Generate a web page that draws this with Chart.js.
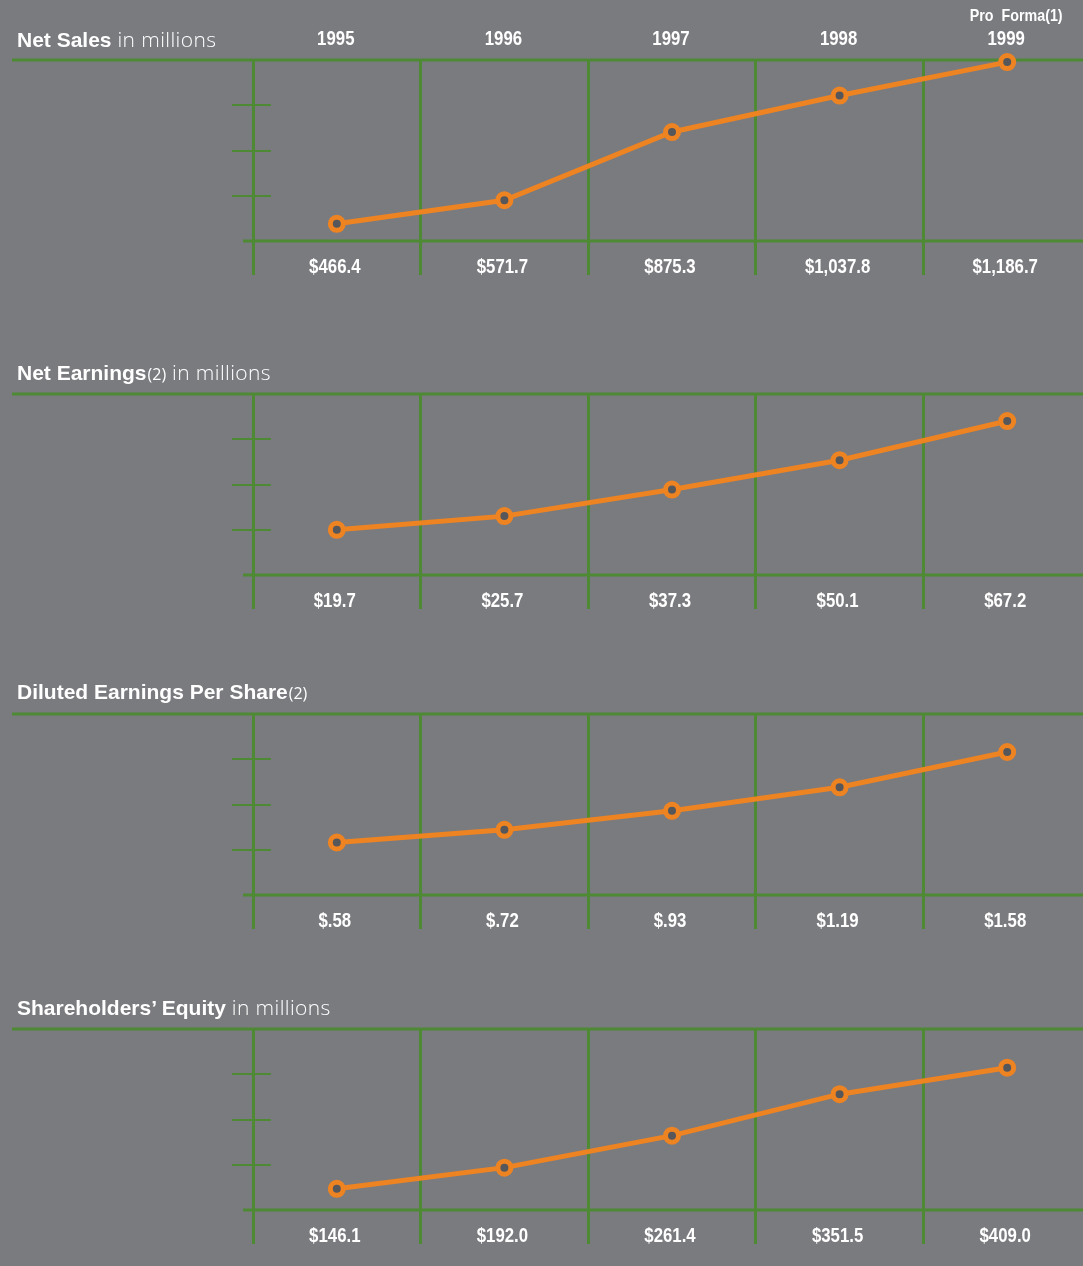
<!DOCTYPE html>
<html><head><meta charset="utf-8">
<script src="https://cdn.jsdelivr.net/npm/chart.js@4.4.1/dist/chart.umd.min.js"></script>
<style>
html,body{margin:0;padding:0;background:#7a7b7f;overflow:hidden;width:1083px;height:1266px;position:relative;}
.panel{position:absolute;left:0;width:1091px;height:285px;}
.title{position:absolute;left:17px;color:#fff;font-size:21px;white-space:nowrap;line-height:22px;z-index:2;}
.title b{font-family:"Liberation Sans",Arial,sans-serif;font-weight:700}
.title span{font-family:"Open Sans",sans-serif;font-weight:300;letter-spacing:0.4px}
.title small{font-family:"Open Sans",sans-serif;font-size:16px;font-weight:400;margin-left:1px}
</style></head><body>
<div class="title" style="top:28px"><b>Net Sales</b><span> in millions</span></div>
<div class="title" style="top:361px"><b>Net Earnings</b><small>(2)</small><span> in millions</span></div>
<div class="title" style="top:681px"><b>Diluted Earnings Per Share</b><small>(2)</small></div>
<div class="title" style="top:996px"><b>Shareholders’ Equity</b><span> in millions</span></div>
<canvas id="c1" class="panel" width="1091" height="285" style="top:0px"></canvas>
<canvas id="c2" class="panel" width="1091" height="285" style="top:334px"></canvas>
<canvas id="c3" class="panel" width="1091" height="285" style="top:654px"></canvas>
<canvas id="c4" class="panel" width="1091" height="285" style="top:969px"></canvas>
<script>
const years = ['1995', '1996', '1997', '1998', '1999'];
const proFormaNote = 'Pro  Forma(1)';

const netSales = [466.4, 571.7, 875.3, 1037.8, 1186.7];
const netSalesLabels = ['$466.4', '$571.7', '$875.3', '$1,037.8', '$1,186.7'];

const netEarnings = [19.7, 25.7, 37.3, 50.1, 67.2];
const netEarningsLabels = ['$19.7', '$25.7', '$37.3', '$50.1', '$67.2'];

const dilutedEPS = [0.58, 0.72, 0.93, 1.19, 1.58];
const dilutedEPSLabels = ['$.58', '$.72', '$.93', '$1.19', '$1.58'];

const equity = [146.1, 192.0, 261.4, 351.5, 409.0];
const equityLabels = ['$146.1', '$192.0', '$261.4', '$351.5', '$409.0'];

const GREEN = '#4e8934', ORANGE = '#ee8322', DOT = '#56575b';
const LABEL_FONT = '"Liberation Sans", Arial, sans-serif';

function drawNarrow(ctx, text, x, y, size) {
  ctx.save();
  ctx.translate(x, y);
  ctx.scale(0.84, 1);
  ctx.font = 'bold ' + size + 'px ' + LABEL_FONT;
  ctx.fillStyle = '#fff';
  ctx.textAlign = 'center';
  ctx.textBaseline = 'middle';
  ctx.fillText(text, 0, 0);
  ctx.restore();
}

const framePlugin = {
  id: 'frame',
  beforeDatasetsDraw(chart) {
    const { ctx, chartArea: a } = chart;
    const y = chart.scales.y;
    ctx.save();
    ctx.strokeStyle = GREEN;
    ctx.lineWidth = 3;
    ctx.beginPath(); ctx.moveTo(12, a.top); ctx.lineTo(chart.width, a.top); ctx.stroke();
    ctx.beginPath(); ctx.moveTo(a.left - 10, a.bottom); ctx.lineTo(chart.width, a.bottom); ctx.stroke();
    ctx.lineWidth = 2;
    y.ticks.forEach((t, i) => {
      if (i === 0 || i === y.ticks.length - 1) return;
      const py = Math.round(y.getPixelForValue(t.value));
      ctx.beginPath(); ctx.moveTo(a.left - 21, py); ctx.lineTo(a.left + 18, py); ctx.stroke();
    });
    ctx.restore();
  },
  afterDraw(chart, args, opts) {
    const { ctx, chartArea: a } = chart;
    const xs = chart.scales.x;
    xs.ticks.forEach((t, i) => drawNarrow(ctx, t.label, xs.getPixelForTick(i) - 2, a.bottom + 26, 20));
    if (opts.showYears) {
      const ts = chart.scales.xTop;
      ts.ticks.forEach((t, i) => drawNarrow(ctx, t.label, ts.getPixelForTick(i) - 1, a.top - 21, 20));
      drawNarrow(ctx, opts.note, ts.getPixelForTick(ts.ticks.length - 1) + 9, 16, 17);
    }
  }
};

function makePanel(id, values, valueLabels, min, max, showYears) {
  return new Chart(document.getElementById(id), {
    type: 'line',
    data: {
      labels: years,
      datasets: [{
        data: values,
        borderColor: ORANGE,
        borderWidth: 5,
        pointRadius: 6.5,
        pointBorderWidth: 5,
        pointBorderColor: ORANGE,
        pointBackgroundColor: DOT,
        tension: 0,
        clip: false
      }]
    },
    options: {
      responsive: false,
      animation: false,
      layout: { padding: 0, autoPadding: false },
      plugins: {
        legend: { display: false },
        tooltip: { enabled: false },
        frame: { showYears: showYears, note: proFormaNote }
      },
      scales: {
        xTop: {
          type: 'category', position: 'top', labels: years, offset: true,
          grid: { display: false }, border: { display: false },
          ticks: { display: false, autoSkip: false, maxRotation: 0 },
          afterFit(s) { s.height = 60; s.paddingLeft = 0; s.paddingRight = 0; }
        },
        x: {
          type: 'category', position: 'bottom', labels: valueLabels, offset: true,
          grid: { color: GREEN, lineWidth: 3, tickLength: 34, offset: true, drawTicks: true },
          border: { display: false },
          ticks: { display: false, autoSkip: false, maxRotation: 0 },
          afterFit(s) { s.height = 44; s.paddingLeft = 0; s.paddingRight = 0; }
        },
        y: {
          min: min, max: max,
          grid: { display: false }, border: { display: false },
          ticks: { display: false },
          afterBuildTicks(s) { s.ticks = [0, 1, 2, 3, 4].map(k => ({ value: s.min + (s.max - s.min) * k / 4 })); },
          afterFit(s) { s.width = 253; }
        }
      }
    },
    plugins: [framePlugin]
  });
}

makePanel('c1', netSales, netSalesLabels, 390, 1196, true);
makePanel('c2', netEarnings, netEarningsLabels, 0, 79, false);
makePanel('c3', dilutedEPS, dilutedEPSLabels, 0, 2, false);
makePanel('c4', equity, equityLabels, 100, 493, false);
</script>
</body></html>
